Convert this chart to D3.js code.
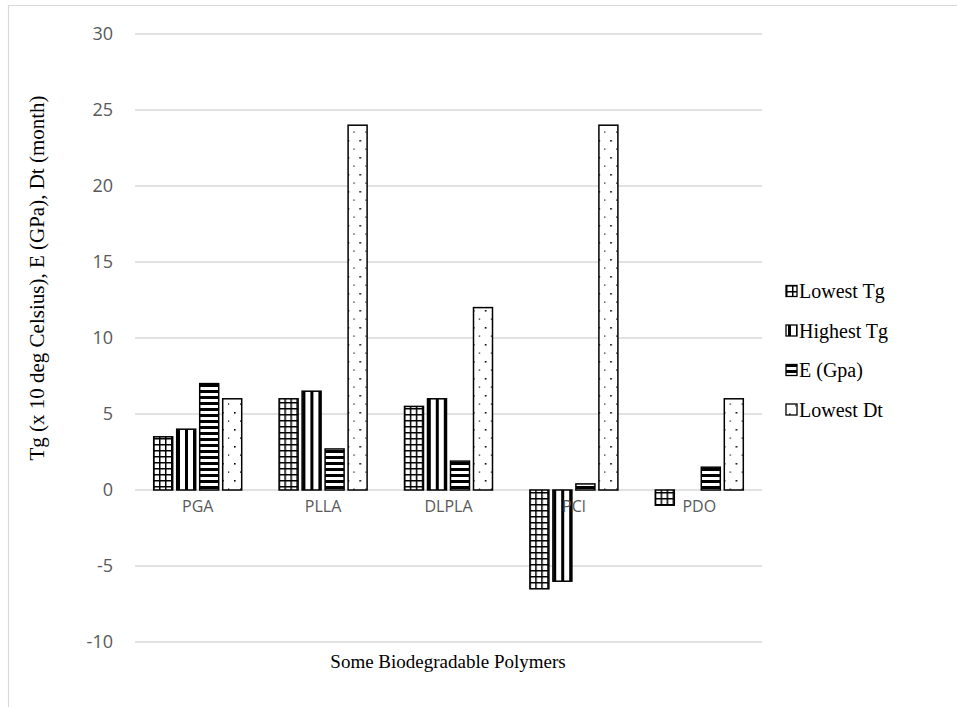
<!DOCTYPE html>
<html>
<head>
<meta charset="utf-8">
<script src="https://cdn.jsdelivr.net/npm/d3@7"></script>
<style>
  html, body { margin: 0; padding: 0; background: #fff; }
  svg { display: block; }
</style>
</head>
<body>
<svg id="chart" width="957" height="707"></svg>
<script>
const CATEGORIES = ['PGA', 'PLLA', 'DLPLA', 'PCl', 'PDO'];
const SERIES = ['Lowest Tg', 'Highest Tg', 'E (Gpa)', 'Lowest Dt'];
const LOWEST_TG = [3.5, 6, 5.5, -6.5, -1];
const HIGHEST_TG = [4, 6.5, 6, -6, 0];
const E_GPA = [7, 2.7, 1.9, 0.4, 1.5];
const LOWEST_DT = [6, 24, 12, 24, 6];
const Y_TICKS = [-10, -5, 0, 5, 10, 15, 20, 25, 30];

const VALUES = [LOWEST_TG, HIGHEST_TG, E_GPA, LOWEST_DT];
const PATTERN_ID = ['pat-grid', 'pat-vstripe', 'pat-hstripe', 'pat-dots'];

const svg = d3.select('#chart');
const GRID = '#d9d9d9';
const TICK_COLOR = '#595959';
const SANS = '"Open Sans", "Liberation Sans", sans-serif';
const SERIF = '"Liberation Serif", "Times New Roman", serif';

const plot = { left: 135, right: 762, top: 34, bottom: 642 };

// outer chart frame (only top and left edges show)
svg.append('line').attr('x1', 8).attr('x2', 957).attr('y1', 5.5).attr('y2', 5.5)
  .attr('stroke', GRID).attr('stroke-width', 1.2);
svg.append('line').attr('x1', 8.5).attr('x2', 8.5).attr('y1', 5).attr('y2', 707)
  .attr('stroke', GRID).attr('stroke-width', 1.2);

// fill patterns
const defs = svg.append('defs');
function pattern(id, w, h) {
  return defs.append('pattern').attr('id', id)
    .attr('patternUnits', 'userSpaceOnUse')
    .attr('width', w).attr('height', h);
}
const pg = pattern('pat-grid', 6, 6);
pg.append('rect').attr('width', 6).attr('height', 6).attr('fill', '#fff');
pg.append('rect').attr('x', 0).attr('y', 0).attr('width', 6).attr('height', 1.5).attr('fill', '#000');
pg.append('rect').attr('x', 0).attr('y', 0).attr('width', 1.5).attr('height', 6).attr('fill', '#000');

const pv = pattern('pat-vstripe', 8, 8);
pv.append('rect').attr('width', 8).attr('height', 8).attr('fill', '#fff');
pv.append('rect').attr('x', 2).attr('width', 3).attr('height', 8).attr('fill', '#000');

const ph = pattern('pat-hstripe', 6, 6);
ph.append('rect').attr('width', 6).attr('height', 6).attr('fill', '#fff');
ph.append('rect').attr('y', 0).attr('width', 6).attr('height', 3).attr('fill', '#000');

const pd = pattern('pat-dots', 12, 17);
pd.append('rect').attr('width', 12).attr('height', 17).attr('fill', '#fff');
pd.append('rect').attr('x', 3).attr('y', 4).attr('width', 1.6).attr('height', 1.6).attr('fill', '#000');
pd.append('rect').attr('x', 9).attr('y', 12.5).attr('width', 1.2).attr('height', 1.2).attr('fill', '#000');

// scales
const y = d3.scaleLinear().domain([-10, 30]).range([plot.bottom, plot.top]);
const x0 = d3.scaleBand().domain(CATEGORIES).range([plot.left, plot.right]).padding(0);
const groupW = 88;
const x1 = d3.scaleBand().domain(SERIES)
  .range([(x0.bandwidth() - groupW) / 2, (x0.bandwidth() + groupW) / 2])
  .paddingInner(0.174).paddingOuter(0);

// gridlines
svg.append('g')
  .selectAll('line').data(Y_TICKS).join('line')
  .attr('x1', plot.left).attr('x2', plot.right)
  .attr('y1', d => y(d)).attr('y2', d => y(d))
  .attr('stroke', GRID).attr('stroke-width', 1.3);

// y tick labels
svg.append('g')
  .selectAll('text').data(Y_TICKS).join('text')
  .attr('x', 113).attr('y', d => y(d))
  .attr('dy', '0.35em')
  .attr('text-anchor', 'end')
  .attr('fill', TICK_COLOR)
  .attr('font-family', SANS)
  .attr('font-size', 18)
  .text(d => d);

// bars
const groups = svg.append('g').selectAll('g').data(CATEGORIES).join('g')
  .attr('transform', d => `translate(${x0(d)},0)`);

SERIES.forEach((s, si) => {
  groups.filter((d, i) => VALUES[si][i] !== 0)
    .append('rect')
    .attr('x', x1(s))
    .attr('width', x1.bandwidth())
    .attr('y', (d) => y(Math.max(0, VALUES[si][CATEGORIES.indexOf(d)])))
    .attr('height', (d) => Math.abs(y(VALUES[si][CATEGORIES.indexOf(d)]) - y(0)))
    .attr('fill', `url(#${PATTERN_ID[si]})`)
    .attr('stroke', '#000')
    .attr('stroke-width', 1.5);
});

// category labels just below the zero line
svg.append('g')
  .selectAll('text').data(CATEGORIES).join('text')
  .attr('x', d => x0(d) + x0.bandwidth() / 2)
  .attr('y', y(0) + 22)
  .attr('text-anchor', 'middle')
  .attr('fill', TICK_COLOR)
  .attr('font-family', SANS)
  .attr('font-size', 16)
  .text(d => d);

// axis titles
svg.append('text')
  .attr('transform', `translate(44,278) rotate(-90)`)
  .attr('text-anchor', 'middle')
  .attr('font-family', SERIF)
  .attr('font-size', 21)
  .attr('fill', '#000')
  .text('Tg (x 10 deg Celsius), E (GPa), Dt (month)');

svg.append('text')
  .attr('x', 448).attr('y', 668)
  .attr('text-anchor', 'middle')
  .attr('font-family', SERIF)
  .attr('font-size', 19)
  .attr('fill', '#000')
  .text('Some Biodegradable Polymers');

// legend
const legend = svg.append('g').attr('transform', 'translate(786,291)');
SERIES.forEach((s, si) => {
  const item = legend.append('g').attr('transform', `translate(0,${si * 39.5})`);
  item.append('rect')
    .attr('x', 0).attr('y', -5.5)
    .attr('width', 11).attr('height', 11)
    .attr('fill', `url(#${PATTERN_ID[si]})`)
    .attr('stroke', '#000').attr('stroke-width', 1.3);
  item.append('text')
    .attr('x', 13).attr('y', 0)
    .attr('dy', '0.35em')
    .attr('font-family', SERIF)
    .attr('font-size', 20)
    .attr('fill', '#000')
    .text(s);
});
</script>
</body>
</html>
